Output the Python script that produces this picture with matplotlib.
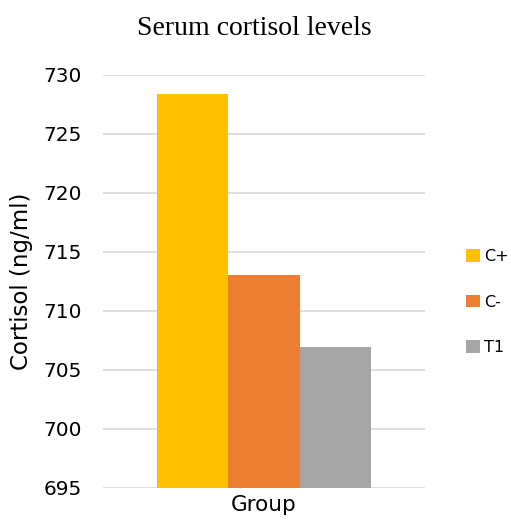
import matplotlib

matplotlib.use("Agg")
import matplotlib.pyplot as plt

# Datos
groups = ["C+", "C-", "T1"]
cortisol = [728.4, 713.0, 706.9]
colors = ["#FFC000", "#ED7D31", "#A5A5A5"]
y_ticks = [695, 700, 705, 710, 715, 720, 725, 730]

fig = plt.figure(figsize=(5.11, 5.2), dpi=100)
ax = fig.add_axes([0.2016, 0.0621, 0.6301, 0.7942])

width = 1.0 / 3
offsets = [-width, 0.0, width]
for g, v, c, off in zip(groups, cortisol, colors, offsets):
    ax.bar(off, v - 695, width, bottom=695, color=c, label=g, zorder=2)

ax.set_xlim(-0.75, 0.75)
ax.set_ylim(695, 730)
ax.set_yticks(y_ticks)
ax.set_yticklabels([str(t) for t in y_ticks], fontsize=14.5)
ax.set_xticks([0])
ax.set_xticklabels(["Group"], fontsize=15.5)
ax.tick_params(axis="y", length=0, pad=15)
ax.tick_params(axis="x", length=0, pad=5)
ax.yaxis.grid(True, color="#D9D9D9", linewidth=1.2, zorder=0)
for s in ax.spines.values():
    s.set_visible(False)

ax.set_ylabel("Cortisol (ng/ml)", fontsize=16.5)
ax.yaxis.set_label_coords(-0.216, 0.5)
fig.text(0.498, 0.946, "Serum cortisol levels", ha="center", va="center",
         fontsize=20, family="Liberation Serif")

ax.legend(loc="center left", bbox_to_anchor=(0.912, 0.419), bbox_transform=fig.transFigure,
          frameon=False, fontsize=11.5, handlelength=0.85, handleheight=0.85,
          handletextpad=0.3, labelspacing=1.9, borderaxespad=0, borderpad=0)

fig.savefig("out.png", dpi=100)
